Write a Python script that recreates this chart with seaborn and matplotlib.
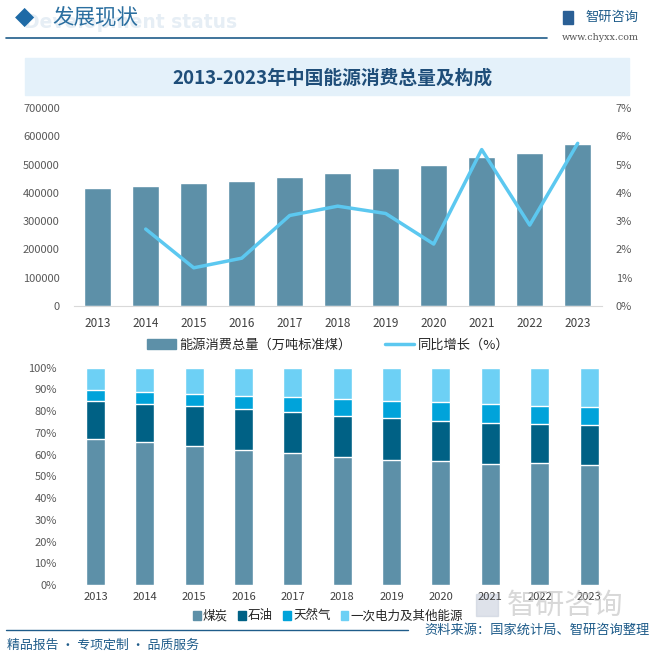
import seaborn as sns
import matplotlib.pyplot as plt
import pandas as pd
from matplotlib.patches import Rectangle, Patch
from matplotlib.lines import Line2D
from matplotlib import ticker

years = ['2013', '2014', '2015', '2016', '2017', '2018', '2019', '2020', '2021', '2022', '2023']
total = [416913, 425806, 434113, 441492, 455827, 471925, 487488, 498314, 525896, 541000, 572000]
growth = [None, 2.72, 1.35, 1.69, 3.2, 3.53, 3.27, 2.19, 5.53, 2.86, 5.75]

coal = [67.4, 65.8, 63.8, 62.2, 60.6, 59.0, 57.7, 56.9, 55.9, 56.2, 55.3]
oil = [17.1, 17.3, 18.4, 18.7, 18.9, 18.9, 19.0, 18.8, 18.6, 17.9, 18.3]
gas = [5.3, 5.6, 5.8, 6.1, 6.9, 7.6, 8.0, 8.4, 8.8, 8.4, 8.5]
other = [10.2, 11.3, 12.0, 13.0, 13.6, 14.5, 15.3, 15.9, 16.7, 17.5, 17.9]

C_BAR = '#5D90A8'
C_OIL = '#006185'
C_GAS = '#00A3DA'
C_OTHER = '#6DD0F5'
C_LINE = '#5CC8F0'
C_BLUE = '#1F5C8A'

sns.set_style('white')
plt.rcParams['font.family'] = ['Noto Sans CJK SC', 'DejaVu Sans']

W = 657
fig = plt.figure(figsize=(6.57, 6.57), dpi=100)


def fx(px):
    return px / W


def fy(py):
    return 1 - py / W


# header
fig.text(fx(237), fy(22), 'Development status', fontsize=13.5, fontweight='bold',
         color='#E6EEF5', va='center', ha='right', family='DejaVu Sans', zorder=0)
fig.text(fx(25), fy(17), '◆', fontsize=18, color='#1E6AA6', ha='center', va='center',
         family='DejaVu Sans')
fig.text(fx(52), fy(17), '发展现状', fontsize=15.5, color='#2B6FA0', va='center')
fig.add_artist(Line2D([fx(6), fx(547)], [fy(38), fy(38)], color=C_BLUE, lw=1.2))
fig.add_artist(Rectangle((fx(563), fy(24)), fx(10), 13 / W, color='#2A5F95'))
fig.text(fx(585), fy(17), '智研咨询', fontsize=9.5, color=C_BLUE, va='center')
fig.text(fx(600), fy(37), 'www.chyxx.com', fontsize=6.8, color='#555555', ha='center',
         va='center', family='DejaVu Serif')

# title box
fig.add_artist(Rectangle((fx(25), fy(95)), fx(604), 37 / W, color='#E4F1FA', zorder=0))
fig.text(fx(332), fy(78), '2013-2023年中国能源消费总量及构成', fontsize=13.5,
         fontweight='bold', color='#1F4E79', ha='center', va='center')

# top chart
df_top = pd.DataFrame({'year': years, 'total': total, 'growth': growth})
ax1 = fig.add_axes([fx(73.7), fy(306), fx(528), 198 / W])
sns.barplot(data=df_top, x='year', y='total', color=C_BAR, width=0.56, ax=ax1,
            saturation=1)
ax1.set_ylim(0, 700000)
ax1.set_xlim(-0.5, 10.5)
ax1.set_yticks(range(0, 700001, 100000))
ax1.yaxis.set_major_formatter(ticker.FuncFormatter(lambda v, p: f'{int(v)}'))
ax1.set_xlabel('')
ax1.set_ylabel('')
ax1.tick_params(axis='y', labelsize=8, colors='#595959', length=0, pad=10)
ax1.tick_params(axis='x', labelsize=8.5, colors='#404040', length=0, pad=8)
for s in ['top', 'right', 'left']:
    ax1.spines[s].set_visible(False)
ax1.spines['bottom'].set_color('#D9D9D9')

ax2 = ax1.twinx()
sns.lineplot(data=df_top, x='year', y='growth', color=C_LINE, lw=2.5, ax=ax2)
ax2.set_ylim(0, 7)
ax2.set_yticks(range(0, 8))
ax2.yaxis.set_major_formatter(ticker.FuncFormatter(lambda v, p: f'{int(v)}%'))
ax2.set_ylabel('')
ax2.tick_params(axis='y', labelsize=8, colors='#595959', length=0, pad=10)
for s in ['top', 'right', 'left', 'bottom']:
    ax2.spines[s].set_visible(False)

h_top = [Patch(color=C_BAR), Line2D([], [], color=C_LINE, lw=2.5)]
fig.legend(h_top, ['能源消费总量（万吨标准煤）', '同比增长（%）'], loc='center',
           bbox_to_anchor=(fx(328), fy(345)), ncol=2, frameon=False, fontsize=9.5,
           handlelength=2.2, handleheight=0.7, columnspacing=2.5, handletextpad=0.3)

# bottom chart, stacked by drawing cumulative totals back to front
df_bot = pd.DataFrame({'year': years, 'coal': coal, 'oil': oil, 'gas': gas, 'other': other})
df_bot['c1'] = df_bot['coal']
df_bot['c2'] = df_bot['c1'] + df_bot['oil']
df_bot['c3'] = df_bot['c2'] + df_bot['gas']
df_bot['c4'] = df_bot['c3'] + df_bot['other']

ax3 = fig.add_axes([fx(70.8), fy(585), fx(542.9), 217.3 / W])
for col, c in [('c4', C_OTHER), ('c3', C_GAS), ('c2', C_OIL), ('c1', C_BAR)]:
    sns.barplot(data=df_bot, x='year', y=col, color=c, width=0.385, ax=ax3, saturation=1)
ax3.set_ylim(0, 100)
ax3.set_xlim(-0.5, 10.5)
ax3.set_yticks(range(0, 101, 10))
ax3.yaxis.set_major_formatter(ticker.FuncFormatter(lambda v, p: f'{int(v)}%'))
ax3.set_xlabel('')
ax3.set_ylabel('')
ax3.tick_params(axis='y', labelsize=8, colors='#595959', length=0, pad=10)
ax3.tick_params(axis='x', labelsize=8, colors='#404040', length=0, pad=5)
for s in ['top', 'right', 'left', 'bottom']:
    ax3.spines[s].set_visible(False)

# watermark bottom right
fig.add_artist(Rectangle((fx(476), fy(616)), fx(22), 22 / W, color='#C8D0DC', alpha=0.6,
                         zorder=0))
fig.text(fx(507), fy(606), '智研咨询', fontsize=21, color='#BEBEBE', va='center',
         alpha=0.6, zorder=0)

h_bot = [Patch(color=c) for c in [C_BAR, C_OIL, C_GAS, C_OTHER]]
fig.legend(h_bot, ['煤炭', '石油', '天然气', '一次电力及其他能源'], loc='center',
           bbox_to_anchor=(fx(328), fy(616)), ncol=4, frameon=False, fontsize=9,
           handlelength=0.6, handleheight=0.7, columnspacing=0.8, handletextpad=0.2)

# footer
fig.add_artist(Line2D([fx(6), fx(408)], [fy(630), fy(630)], color=C_BLUE, lw=1))
fig.text(fx(650), fy(630), '资料来源：国家统计局、智研咨询整理', fontsize=9.5, color=C_BLUE,
         ha='right', va='center')
fig.text(fx(7), fy(645), '精品报告 · 专项定制 · 品质服务', fontsize=9.3, color=C_BLUE,
         va='center')

fig.savefig('out.png', dpi=100)
